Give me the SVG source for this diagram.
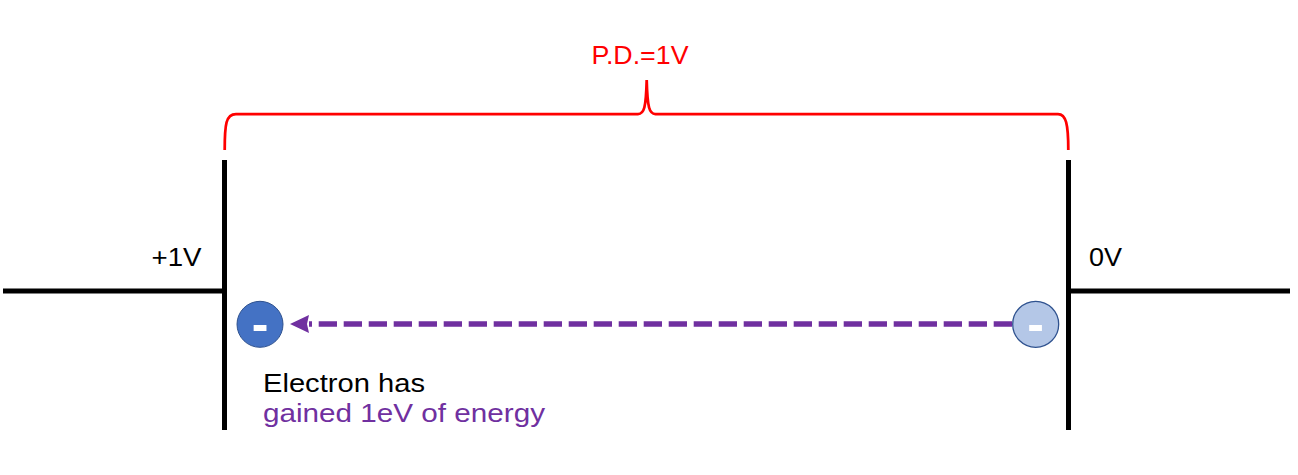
<svg xmlns="http://www.w3.org/2000/svg" width="1298" height="475" viewBox="0 0 1298 475">
<style>
.wire{stroke:#000;stroke-width:5;fill:none}
.lbl{font-family:"Liberation Sans",Arial,sans-serif;font-size:26.5px}
.minus{font-family:"Liberation Sans",Arial,sans-serif;font-size:50px;font-weight:bold;fill:#fff;text-anchor:middle}
</style>
<defs>
<marker id="ah" markerUnits="userSpaceOnUse" markerWidth="20" markerHeight="20" refX="0" refY="9" orient="auto">
<path d="M0,0 L19,9 L0,18 L2,9 Z" fill="#7030A0"/>
</marker>
</defs>
<rect width="1298" height="475" fill="#fff"/>
<g id="left-plate">
<line class="wire" x1="224.5" y1="160" x2="224.5" y2="430"/>
<line class="wire" x1="3" y1="291" x2="224.5" y2="291"/>
<text class="lbl" x="151.5" y="266" textLength="50" lengthAdjust="spacingAndGlyphs">+1V</text>
</g>
<g id="right-plate">
<line class="wire" x1="1068.5" y1="160" x2="1068.5" y2="430"/>
<line class="wire" x1="1068.5" y1="291" x2="1290" y2="291"/>
<text class="lbl" x="1089" y="266" textLength="33" lengthAdjust="spacingAndGlyphs">0V</text>
</g>
<g id="brace">
<path d="M224.7,150 C224.7,124 226,114 236,114 L638,114 C644,114 646,108 646.7,80 C647.4,108 649.4,114 655.4,114 L1058,114 C1066,114 1068.3,124 1068.3,150" fill="none" stroke="#FF0000" stroke-width="2.75"/>
<text class="lbl" x="591.5" y="64" fill="#FF0000" textLength="97" lengthAdjust="spacingAndGlyphs">P.D.=1V</text>
</g>
<g id="connectors">
<line x1="1012" y1="324" x2="309" y2="324" stroke="#7030A0" stroke-width="5.5" stroke-dasharray="18.3 6.7" marker-end="url(#ah)"/>
</g>
<g id="electron-end">
<circle cx="260" cy="324.3" r="23" fill="#4472C4" stroke="#2F528F" stroke-width="1"/>
<text class="minus" x="260" y="340.7">-</text>
</g>
<g id="electron-start">
<circle cx="1035.7" cy="324.3" r="23" fill="#B4C7E7" stroke="#2F528F" stroke-width="1.3"/>
<text class="minus" x="1035.5" y="340.7">-</text>
</g>
<g id="caption">
<text class="lbl" x="263" y="391.5" fill="#000" textLength="162" lengthAdjust="spacingAndGlyphs">Electron has</text>
<text class="lbl" x="263" y="422" fill="#7030A0" textLength="282" lengthAdjust="spacingAndGlyphs">gained 1eV of energy</text>
</g>
</svg>
